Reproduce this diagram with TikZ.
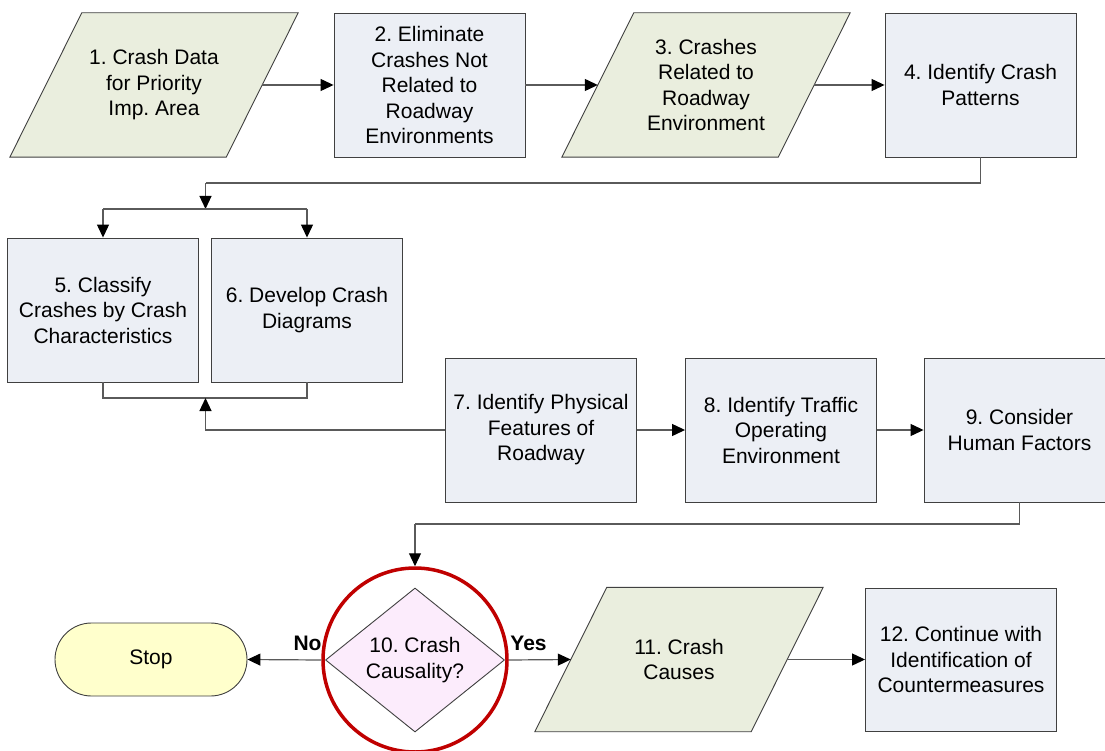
\documentclass[tikz,border=0pt]{standalone}
\usepackage{fontspec}
\setmainfont{Liberation Sans}
\usetikzlibrary{arrows.meta,shapes.geometric,backgrounds}
\definecolor{boxfill}{RGB}{236,239,245}
\definecolor{parafill}{RGB}{234,238,222}
\definecolor{stopfill}{RGB}{255,255,204}
\definecolor{diafill}{RGB}{252,236,252}
\definecolor{edgecol}{RGB}{64,64,64}
\definecolor{conncol}{RGB}{90,90,90}
\definecolor{ringcol}{RGB}{192,0,0}
\frenchspacing
\begin{document}
\begin{tikzpicture}[x=1pt,y=-1pt,
  every node/.style={font=\fontsize{21}{25.5}\selectfont\frenchspacing, align=center},
  stepbox/.style={draw=edgecol, line width=0.9pt, fill=boxfill, minimum width=191pt, minimum height=144pt, inner sep=0pt},
  paratext/.style={minimum width=216pt, minimum height=144pt, inner sep=0pt},
  paradraw/.style={draw=edgecol, line width=0.9pt, fill=parafill},
  connline/.style={draw=conncol, line width=1.2pt},
  arr/.style={connline, -{Triangle[length=13pt,width=12pt,color=black]}},
  lbl/.style={font=\fontsize{21}{25.5}\selectfont\bfseries}]
\useasboundingbox (0,0) rectangle (1105,751);

% nodes
\node[paratext] (n1) at (154,85) {1. Crash Data\\for Priority\\Imp. Area};
\node[stepbox] (n2) at (429.5,85) {2. Eliminate\\Crashes Not\\Related to\\Roadway\\Environments};
\node[paratext] (n3) at (706,85) {3. Crashes\\Related to\\Roadway\\Environment};
\node[stepbox] (n4) at (980.5,85) {4. Identify Crash\\Patterns};
\node[stepbox] (n5) at (103,310) {5. Classify\\Crashes by Crash\\Characteristics};
\node[stepbox] (n6) at (307,310) {6. Develop Crash\\Diagrams};
\node[stepbox] (n7) at (541,430) {7. Identify Physical\\Features of\\Roadway};
\node[stepbox] (n8) at (781,430) {8. Identify Traffic\\Operating\\Environment};
\node[stepbox] (n9) at (1019.5,430) {9. Consider\\Human Factors};
\node[circle, draw=ringcol, line width=3.5pt, minimum size=184pt, inner sep=0pt] (ring) at (415,660) {};
\node[diamond, aspect=1.3, draw=edgecol, line width=0.9pt, fill=diafill, minimum width=179pt, minimum height=144pt, inner sep=0pt] (n10) at (415,660) {10. Crash\\Causality?};
\node[draw=edgecol, line width=0.9pt, fill=stopfill, rounded corners=36.5pt, minimum width=192pt, minimum height=73pt, inner sep=0pt] (stop) at (151,659.5) {Stop};
\node[paratext, minimum height=144pt] (n11) at (679,659.5) {11. Crash\\Causes};
\node[stepbox, minimum height=143pt] (n12) at (961,659.5) {12. Continue with\\Identification of\\Countermeasures};
\node[lbl] (no) at (307.5,643) {No};
\node[lbl] (yes) at (528.5,643) {Yes};

% white page and parallelogram outlines behind the text
\begin{scope}[on background layer]
\fill[white] (0,0) rectangle (1105,751);
\foreach \n in {n1,n3,n11}
  \draw[paradraw] ([xshift=36pt]\n.north west) -- ([xshift=36pt]\n.north east)
     -- ([xshift=-36pt]\n.south east) -- ([xshift=-36pt]\n.south west) -- cycle;
\end{scope}

% connectors
\coordinate (c4) at (205.5,183);
\coordinate (j1) at (205.5,209);
\coordinate (j2) at (205.5,398);
\coordinate (c9) at (415,524);

\draw[arr] (n1.east) -- (n2.west);
\draw[arr] (n2.east) -- (n3.west);
\draw[arr] (n3.east) -- (n4.west);
\draw[connline] (n4.south) |- (c4);
\draw[arr] (c4) -- (j1);
\draw[connline] (n5.north |- j1) -- (n6.north |- j1);
\draw[arr] (n5.north |- j1) -- (n5.north);
\draw[arr] (n6.north |- j1) -- (n6.north);
\draw[connline] (n5.south) -- (n5.south |- j2) -- (n6.south |- j2) -- (n6.south);
\draw[arr] (n7.west) -| (j2);
\draw[arr] (n7.east) -- (n8.west);
\draw[arr] (n8.east) -- (n9.west);
\draw[connline] (n9.south) |- (c9);
\draw[arr] (c9) -- (ring.north);
\draw[arr] (ring.west) -- (stop.east);
\draw[arr] (ring.east) -- (n11.west);
\draw[arr] (n11.east) -- (n12.west);
\end{tikzpicture}
\end{document}
